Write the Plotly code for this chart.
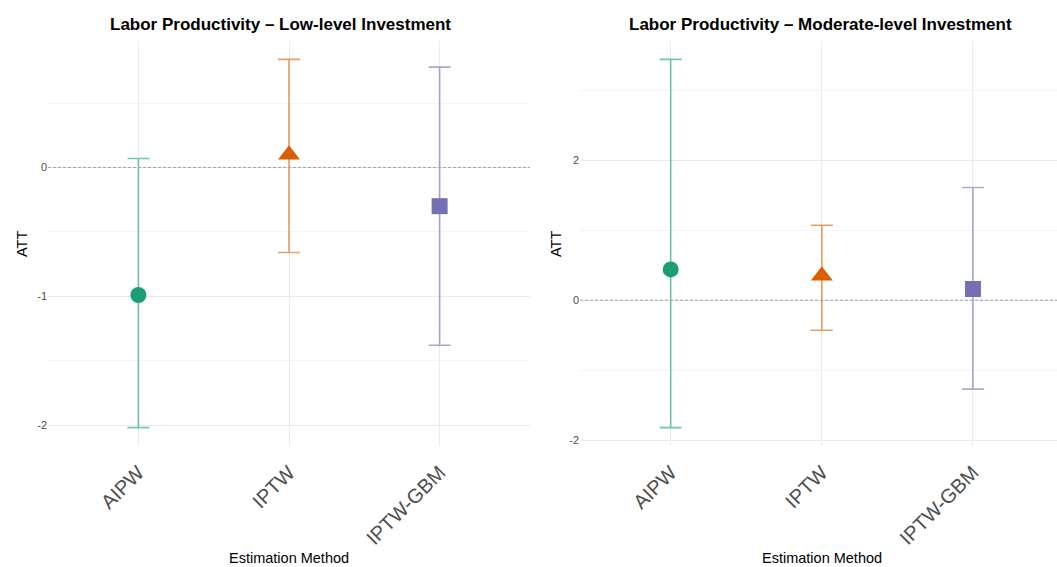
import plotly.graph_objects as go

# Estimates of the ATT on labor productivity, with 95% confidence limits
methods = ["AIPW", "IPTW", "IPTW-GBM"]

low_att = [-0.99, 0.10, -0.30]
low_lower = [-2.02, -0.66, -1.38]
low_upper = [0.07, 0.84, 0.78]

mod_att = [0.44, 0.35, 0.16]
mod_lower = [-1.82, -0.43, -1.27]
mod_upper = [3.44, 1.07, 1.61]

low_ticks = [-2, -1, 0]
mod_ticks = [-2, 0, 2]

panel_titles = ["Labor Productivity \u2013 Low-level Investment",
                "Labor Productivity \u2013 Moderate-level Investment"]

colors = ["#1B9E77", "#D95F02", "#7570B3"]
bar_colors = ["rgba(27,158,119,0.6)", "rgba(217,95,2,0.6)", "rgba(117,112,179,0.6)"]
symbols = ["circle", "triangle-up", "square"]
sizes = [16, 19, 16]

W, H = 1057, 567
FONT = "Liberation Sans, Arial, sans-serif"

fig = go.Figure()

panels = [
    dict(att=low_att, lo=low_lower, hi=low_upper, ticks=low_ticks, xa="x", ya="y",
         xdom=[48 / W, 530 / W], xrange=[-0.6, 2.6], dtick=1),
    dict(att=mod_att, lo=mod_lower, hi=mod_upper, ticks=mod_ticks, xa="x2", ya="y2",
         xdom=[580 / W, 1.0], xrange=[-0.6, 2.556], dtick=2),
]
ydom = [1 - 446 / H, 1 - 41 / H]

for p in panels:
    for i, m in enumerate(methods):
        fig.add_trace(go.Scatter(
            x=[i], y=[p["att"][i]], xaxis=p["xa"], yaxis=p["ya"],
            mode="markers", showlegend=False, name=m,
            marker=dict(symbol=symbols[i], size=sizes[i], color=colors[i],
                        line=dict(width=0)),
            error_y=dict(type="data", symmetric=False,
                         array=[p["hi"][i] - p["att"][i]],
                         arrayminus=[p["att"][i] - p["lo"][i]],
                         color=bar_colors[i], thickness=1.6, width=11),
        ))

layout = dict(
    template="none",
    width=W, height=H, margin=dict(l=0, r=0, t=0, b=0),
    paper_bgcolor="white", plot_bgcolor="white",
    font=dict(family=FONT, color="#4D4D4D"),
    showlegend=False,
)

for k, p in enumerate(panels):
    sfx = "" if k == 0 else "2"
    lo = min(p["lo"]); hi = max(p["hi"])
    pad = 0.05 * (hi - lo)
    layout["xaxis" + sfx] = dict(
        domain=p["xdom"], anchor="y" + sfx, range=p["xrange"],
        tickmode="array", tickvals=list(range(len(methods))), ticktext=methods,
        tickangle=-45, tickfont=dict(size=20, color="#4D4D4D", family=FONT),
        showgrid=True, gridcolor="#EBEBEB", gridwidth=1,
        zeroline=False, showline=False, ticks="outside", ticklen=6,
        tickcolor="rgba(0,0,0,0)",
    )
    layout["yaxis" + sfx] = dict(
        domain=ydom, anchor="x" + sfx, range=[lo - pad, hi + pad],
        tickmode="array", tickvals=p["ticks"],
        ticktext=[str(t) for t in p["ticks"]],
        tickfont=dict(size=11, color="#4D4D4D", family=FONT),
        showgrid=True, gridcolor="#EBEBEB", gridwidth=1,
        minor=dict(dtick=p["dtick"] / 2, tick0=0, showgrid=True,
                   gridcolor="#F4F4F4", gridwidth=1, ticks=""),
        zeroline=False, showline=False, ticks="",
    )

fig.update_layout(**layout)

# dashed reference line at zero
for k in range(2):
    sfx = "" if k == 0 else "2"
    fig.add_shape(type="line", xref=f"x{sfx} domain", yref=f"y{sfx}",
                  x0=0, x1=1, y0=0, y1=0,
                  line=dict(color="#A0A0A0", width=1, dash="3px,2px"),
                  layer="above")

title_x = [280, 820]
xtitle_x = [289, 822]
ytitle_x = [22, 556]
for k in range(2):
    fig.add_annotation(text=f"<b>{panel_titles[k]}</b>", x=title_x[k] / W, y=1 - 25 / H,
                       xref="paper", yref="paper", showarrow=False,
                       xanchor="center", yanchor="middle",
                       font=dict(size=17, color="black", family=FONT))
    fig.add_annotation(text="Estimation Method", x=xtitle_x[k] / W, y=1 - 558 / H,
                       xref="paper", yref="paper", showarrow=False,
                       xanchor="center", yanchor="middle",
                       font=dict(size=14.5, color="black", family=FONT))
    fig.add_annotation(text="ATT", x=ytitle_x[k] / W, y=1 - 244 / H, textangle=-90,
                       xref="paper", yref="paper", showarrow=False,
                       xanchor="center", yanchor="middle",
                       font=dict(size=14.5, color="black", family=FONT))

fig.write_html("out.html")
